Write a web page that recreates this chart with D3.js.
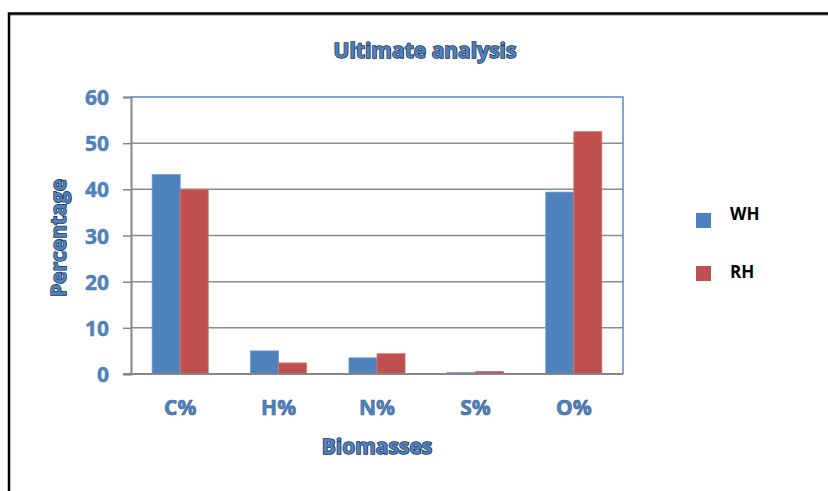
<!DOCTYPE html>
<html>
<head>
<meta charset="utf-8">
<script src="https://cdn.jsdelivr.net/npm/d3@7"></script>
<style>
  html, body { margin: 0; padding: 0; background: #fff; }
  svg { display: block; font-family: "Open Sans", "DejaVu Sans", sans-serif; }
</style>
</head>
<body>
<svg id="chart" width="828" height="491"></svg>
<script>
// Ultimate analysis of two biomasses (weight %)
const categories = ["C%", "H%", "N%", "S%", "O%"];
const seriesNames = ["WH", "RH"];
const whValues = [43.2, 5.0, 3.5, 0.35, 39.4];
const rhValues = [40.0, 2.4, 4.4, 0.55, 52.5];
const yTicks = [0, 10, 20, 30, 40, 50, 60];
const seriesColors = ["#4f81bd", "#c0504d"];

const svg = d3.select("#chart");
const W = 828, H = 491;
const plot = { left: 131, right: 623, top: 97, bottom: 374 };

// outer frame (top and left edges visible)
svg.append("line").attr("x1", 9).attr("x2", W).attr("y1", 15).attr("y2", 15)
  .attr("stroke", "#aaa").attr("stroke-width", 1.5);
svg.append("path").attr("d", `M9,${H} V13.5 H${W}`)
  .attr("fill", "none").attr("stroke", "#000").attr("stroke-width", 2.5);

const x0 = d3.scaleBand().domain(categories).range([plot.left, plot.right]).paddingInner(0.43).paddingOuter(0.215);
const x1 = d3.scaleBand().domain(seriesNames).range([0, x0.bandwidth()]);
const y = d3.scaleLinear().domain([0, 60]).range([plot.bottom, plot.top]);

// gridlines
svg.append("g").selectAll("line").data(yTicks.filter(t => t > 0 && t < 60)).join("line")
  .attr("x1", plot.left).attr("x2", plot.right)
  .attr("y1", d => y(d)).attr("y2", d => y(d))
  .attr("stroke", "#8c8c8c").attr("stroke-width", 1.5);

// plot border top/right
svg.append("path")
  .attr("d", `M${plot.left},${y(60)} H${plot.right} V${plot.bottom}`)
  .attr("fill", "none").attr("stroke", "#5b8bc8").attr("stroke-width", 1.5);

// bars
const rows = categories.map((c, i) => ({ cat: c, vals: [whValues[i], rhValues[i]] }));
svg.append("g").selectAll("g").data(rows).join("g")
  .attr("transform", d => `translate(${x0(d.cat)},0)`)
  .selectAll("rect").data(d => d.vals.map((v, j) => ({ name: seriesNames[j], v, j }))).join("rect")
  .attr("x", d => x1(d.name)).attr("width", x1.bandwidth())
  .attr("y", d => y(d.v)).attr("height", d => y(0) - y(d.v))
  .attr("fill", d => seriesColors[d.j])
  .attr("stroke", d => d.j === 0 ? "#6f99cf" : "#d47673").attr("stroke-width", 0.8);

// y axis
const yAxis = svg.append("g").attr("transform", `translate(${plot.left},0)`)
  .call(d3.axisLeft(y).tickValues(yTicks).tickSize(8).tickPadding(14));
yAxis.select(".domain").attr("stroke", "#868686").attr("stroke-width", 2);
yAxis.selectAll(".tick line").attr("stroke", "#868686").attr("stroke-width", 1.5);
yAxis.selectAll(".tick text").attr("fill", "#4f81bd")
  .attr("stroke", "#4f81bd").attr("stroke-width", 0.5)
  .style("font-size", "21px").style("font-weight", "bold").attr("dy", "0.36em")
  .attr("font-family", "'Open Sans', sans-serif");

// x axis
const xAxis = svg.append("g").attr("transform", `translate(0,${plot.bottom})`)
  .call(d3.axisBottom(x0).tickSize(0).tickPadding(26));
xAxis.select(".domain").attr("d", `M${plot.left - 8},0H${plot.right}`)
  .attr("stroke", "#868686").attr("stroke-width", 2);
xAxis.selectAll(".tick text").attr("fill", "#4f81bd")
  .attr("stroke", "#3d6496").attr("stroke-width", 0.6)
  .style("font-size", "21px").style("font-weight", "bold")
  .attr("font-family", "'Open Sans', sans-serif");

// titles with dark outline
function outlined(sel) {
  return sel.attr("fill", "#4f81bd").attr("stroke", "#17304f").attr("stroke-width", 1.5)
    .style("paint-order", "stroke").style("font-weight", "bold");
}
outlined(svg.append("text").attr("x", 425).attr("y", 58).attr("text-anchor", "middle")
  .style("font-size", "21px").text("Ultimate analysis"));
outlined(svg.append("text").attr("x", 377).attr("y", 454).attr("text-anchor", "middle")
  .style("font-size", "21px").text("Biomasses"));
outlined(svg.append("text").attr("transform", "translate(66,238) rotate(-90)").attr("text-anchor", "middle")
  .style("font-size", "21px").text("Percentage"));

// legend: swatches and labels
const swatchY = [213, 266];
const labelY = [219.5, 277.5];
const legend = svg.append("g").selectAll("g").data(seriesNames).join("g");
legend.append("rect").attr("x", 696).attr("y", (d, i) => swatchY[i])
  .attr("width", 15).attr("height", 15).attr("fill", (d, i) => seriesColors[i]);
legend.append("text").attr("x", 730).attr("y", (d, i) => labelY[i])
  .style("font-size", "17px").style("font-weight", "bold").attr("fill", "#000")
  .text(d => d);
</script>
</body>
</html>
